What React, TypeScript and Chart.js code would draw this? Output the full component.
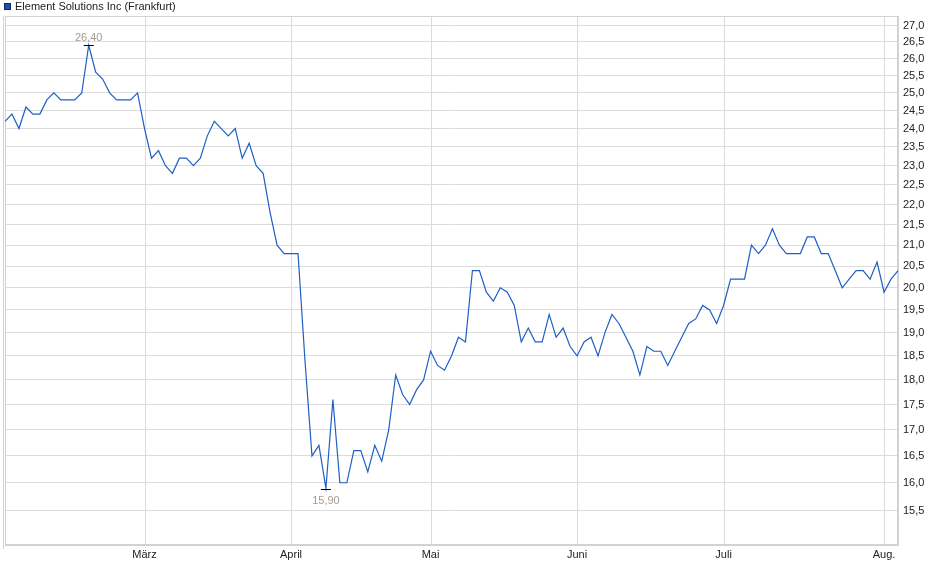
import React, { useEffect, useRef } from "react";
import { Chart, registerables } from "chart.js";

Chart.register(...registerables);

const seriesName = "Element Solutions Inc (Frankfurt)";

// Handelstage Frankfurt, Feb. bis Aug. 2025
const tradingDays = [
  "03.02.", "04.02.", "05.02.", "06.02.", "07.02.", "10.02.", "11.02.", "12.02.", "13.02.", "14.02.",
  "17.02.", "18.02.", "19.02.", "20.02.", "21.02.", "24.02.", "25.02.", "26.02.", "27.02.", "28.02.",
  "03.03.", "04.03.", "05.03.", "06.03.", "07.03.", "10.03.", "11.03.", "12.03.", "13.03.", "14.03.",
  "17.03.", "18.03.", "19.03.", "20.03.", "21.03.", "24.03.", "25.03.", "26.03.", "27.03.", "28.03.", "31.03.",
  "01.04.", "02.04.", "03.04.", "04.04.", "07.04.", "08.04.", "09.04.", "10.04.", "11.04.", "14.04.",
  "15.04.", "16.04.", "17.04.", "22.04.", "23.04.", "24.04.", "25.04.", "28.04.", "29.04.", "30.04.",
  "02.05.", "05.05.", "06.05.", "07.05.", "08.05.", "09.05.", "12.05.", "13.05.", "14.05.", "15.05.",
  "16.05.", "19.05.", "20.05.", "21.05.", "22.05.", "23.05.", "26.05.", "27.05.", "28.05.", "29.05.", "30.05.",
  "02.06.", "03.06.", "04.06.", "05.06.", "06.06.", "09.06.", "10.06.", "11.06.", "12.06.", "13.06.",
  "16.06.", "17.06.", "18.06.", "19.06.", "20.06.", "23.06.", "24.06.", "25.06.", "26.06.", "27.06.", "30.06.",
  "01.07.", "02.07.", "03.07.", "04.07.", "07.07.", "08.07.", "09.07.", "10.07.", "11.07.", "14.07.",
  "15.07.", "16.07.", "17.07.", "18.07.", "21.07.", "22.07.", "23.07.", "24.07.", "25.07.", "28.07.",
  "29.07.", "30.07.", "31.07.",
  "01.08.", "04.08.", "05.08.",
];

const prices = [
  // Feb.
  24.2, 24.4, 24.0, 24.6, 24.4, 24.4, 24.8, 25.0, 24.8, 24.8,
  24.8, 25.0, 26.4, 25.6, 25.4, 25.0, 24.8, 24.8, 24.8, 25.0,
  // März
  24.0, 23.2, 23.4, 23.0, 22.8, 23.2, 23.2, 23.0, 23.2, 23.8,
  24.2, 24.0, 23.8, 24.0, 23.2, 23.6, 23.0, 22.8, 21.8, 21.0, 20.8,
  // April
  20.8, 20.8, 18.4, 16.5, 16.7, 15.9, 17.6, 16.0, 16.0, 16.6,
  16.6, 16.2, 16.7, 16.4, 17.0, 18.1, 17.7, 17.5, 17.8, 18.0,
  // Mai
  18.6, 18.3, 18.2, 18.5, 18.9, 18.8, 20.4, 20.4, 19.9, 19.7,
  20.0, 19.9, 19.6, 18.8, 19.1, 18.8, 18.8, 19.4, 18.9, 19.1, 18.7,
  // Juni
  18.5, 18.8, 18.9, 18.5, 19.0, 19.4, 19.2, 18.9, 18.6, 18.1,
  18.7, 18.6, 18.6, 18.3, 18.6, 18.9, 19.2, 19.3, 19.6, 19.5, 19.2,
  // Juli
  19.6, 20.2, 20.2, 20.2, 21.0, 20.8, 21.0, 21.4, 21.0, 20.8,
  20.8, 20.8, 21.2, 21.2, 20.8, 20.8, 20.4, 20.0, 20.2, 20.4,
  20.4, 20.2, 20.6,
  // Aug.
  19.9, 20.2, 20.4,
];

const monthNames = ["Jan.", "Feb.", "März", "April", "Mai", "Juni", "Juli", "Aug.", "Sep.", "Okt.", "Nov.", "Dez."];

const yTicks = [
  15.5, 16.0, 16.5, 17.0, 17.5, 18.0, 18.5, 19.0, 19.5, 20.0, 20.5, 21.0,
  21.5, 22.0, 22.5, 23.0, 23.5, 24.0, 24.5, 25.0, 25.5, 26.0, 26.5, 27.0,
];

const FONT = '"Liberation Sans", Arial, sans-serif';
const GRID = "#dcdcdc";
const LINE = "#1f5fc4";

const monthOf = (d: string) => parseInt(d.slice(3, 5), 10);

// Monatsname am ersten Handelstag eines Monats
const monthLabel = (i: number): string | null => {
  if (i <= 0 || i >= tradingDays.length) return null;
  const m = monthOf(tradingDays[i]);
  return m !== monthOf(tradingDays[i - 1]) ? monthNames[m - 1] : null;
};

const de = (v: number, digits: number) => v.toFixed(digits).replace(".", ",");

const chartDecor = {
  id: "chartDecor",
  beforeDatasetsDraw(chart: any) {
    const { ctx, chartArea: a } = chart;
    const xs = chart.scales.x;
    ctx.save();
    ctx.lineWidth = 1;

    // senkrechte Monatslinien
    ctx.strokeStyle = GRID;
    ctx.beginPath();
    tradingDays.forEach((_d, i) => {
      if (!monthLabel(i)) return;
      const x = Math.round(xs.getPixelForValue(i)) + 0.5;
      ctx.moveTo(x, a.top);
      ctx.lineTo(x, a.bottom);
    });
    ctx.stroke();

    // Rahmen
    ctx.strokeStyle = "#d2d2d2";
    ctx.strokeRect(
      Math.round(a.left) + 0.5,
      Math.round(a.top) + 0.5,
      Math.round(a.right - a.left) - 1,
      Math.round(a.bottom - a.top) - 1
    );
    ctx.beginPath();
    ctx.moveTo(Math.round(a.left) - 2 + 0.5, a.top);
    ctx.lineTo(Math.round(a.left) - 2 + 0.5, a.bottom + 4);
    ctx.stroke();
    ctx.restore();
  },
  afterDraw(chart: any) {
    const { ctx } = chart;
    const xs = chart.scales.x;
    const ys = chart.scales.y;

    ctx.save();
    // Legende
    ctx.fillStyle = "#1d50a8";
    ctx.fillRect(4, 3, 7, 7);
    ctx.strokeStyle = "#0c2a66";
    ctx.lineWidth = 1;
    ctx.strokeRect(4.5, 3.5, 6, 6);
    ctx.fillStyle = "#222";
    ctx.font = `11px ${FONT}`;
    ctx.textAlign = "left";
    ctx.textBaseline = "middle";
    ctx.fillText(seriesName, 15, 7);

    // Hoch / Tief
    const maxV = Math.max(...prices);
    const minV = Math.min(...prices);
    const marks = [
      { i: prices.indexOf(maxV), v: maxV, dy: -8, bar: 0 },
      { i: prices.indexOf(minV), v: minV, dy: 11, bar: 1 },
    ];
    marks.forEach((m) => {
      const x = xs.getPixelForValue(m.i);
      const y = Math.round(ys.getPixelForValue(m.v)) + m.bar + 0.5;
      ctx.strokeStyle = "#000";
      ctx.beginPath();
      ctx.moveTo(x - 5, y);
      ctx.lineTo(x + 5, y);
      ctx.stroke();
      ctx.fillStyle = "#a89a8a";
      ctx.textAlign = "center";
      ctx.fillText(de(m.v, 2), x, y + m.dy);
    });
    ctx.restore();
  },
};

const KursChart = () => {
  const canvasRef = useRef<HTMLCanvasElement>(null);
  const chartRef = useRef<Chart | null>(null);

  useEffect(() => {
    document.body.style.margin = "0";
    if (!canvasRef.current) return;

    chartRef.current?.destroy();

    chartRef.current = new Chart(canvasRef.current, {
      type: "line",
      data: {
        labels: tradingDays,
        datasets: [
          {
            label: seriesName,
            data: prices,
            borderColor: LINE,
            borderWidth: 1.2,
            pointRadius: 0,
            tension: 0,
            fill: false,
          },
        ],
      },
      options: {
        responsive: true,
        maintainAspectRatio: false,
        animation: false,
        layout: {
          padding: { left: 5, top: 16, right: 0, bottom: 0 },
        },
        plugins: {
          legend: { display: false },
          tooltip: { enabled: false },
        },
        scales: {
          x: {
            type: "category",
            offset: false,
            grid: { display: false, drawTicks: false },
            border: { display: true, color: "#d2d2d2" },
            ticks: {
              autoSkip: false,
              maxRotation: 0,
              padding: 3,
              color: "#222",
              font: { family: FONT, size: 11 },
              callback: (_v: any, i: number) => monthLabel(i),
            },
            afterFit: (s: any) => {
              s.height = 34;
            },
          },
          y: {
            type: "logarithmic",
            position: "right",
            min: 14.9,
            max: 27.3,
            grid: { color: GRID, drawTicks: false },
            border: { display: true, color: "#d2d2d2" },
            afterBuildTicks: (s: any) => {
              s.ticks = yTicks.map((value) => ({ value }));
            },
            ticks: {
              padding: 5,
              color: "#222",
              font: { family: FONT, size: 11 },
              callback: (v: any) => de(Number(v), 1),
            },
            afterFit: (s: any) => {
              s.width = 42;
            },
          },
        },
      },
      plugins: [chartDecor],
    } as any);

    return () => {
      chartRef.current?.destroy();
    };
  }, []);

  return (
    <div style={{ width: 940, height: 579, position: "relative", background: "#fff" }}>
      <canvas ref={canvasRef} />
    </div>
  );
};

export default function App() {
  return <KursChart />;
}
